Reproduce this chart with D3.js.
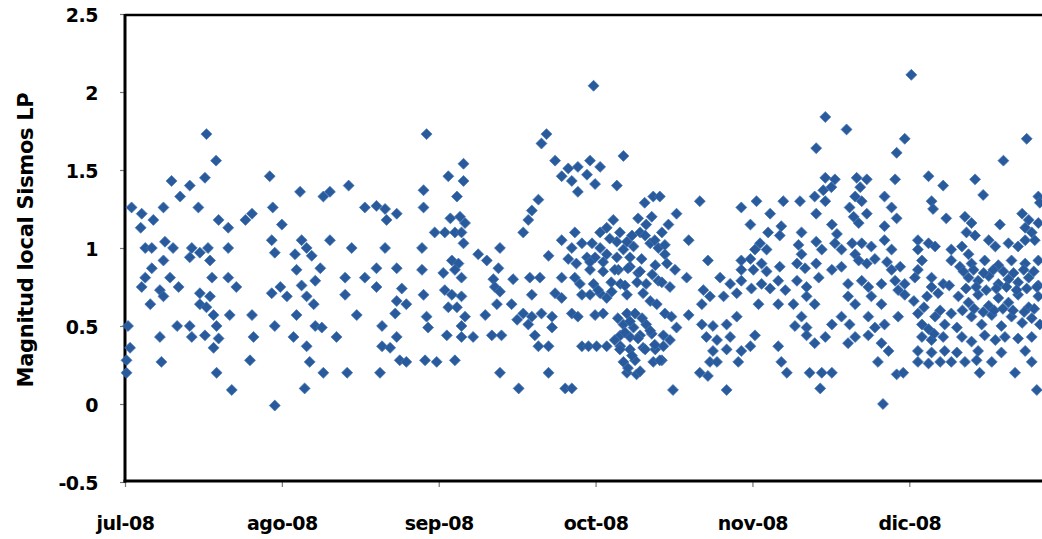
<!DOCTYPE html>
<html>
<head>
<meta charset="utf-8">
<script src="https://cdn.jsdelivr.net/npm/d3@7"></script>
<style>
  html, body { margin: 0; padding: 0; background: #fff; }
  svg { display: block; }
  text { font-family: "DejaVu Sans", Verdana, sans-serif; font-weight: bold; fill: #000; }
</style>
</head>
<body>
<svg id="chart" width="1042" height="539"></svg>
<script>
// Sismos LP: [día del mes (con fracción), magnitud local]
const julio = [
  [17.1,1.73],[19.0,1.56],[10.2,1.43],[13.8,1.40],[16.8,1.45],[11.9,1.33],[15.5,1.26],[8.6,1.26],[2.3,1.26],[4.3,1.22],
  [6.6,1.18],[4.1,1.13],[19.5,1.18],[21.4,1.13],[24.8,1.18],[26.1,1.22],[29.6,1.46],[30.2,1.26],[5.0,1.0],[6.3,1.0],
  [8.9,1.04],[10.5,1.0],[14.2,1.0],[17.4,1.0],[21.4,1.0],[30.0,1.05],[30.6,0.97],[13.8,0.94],[15.8,0.97],[17.8,0.92],
  [8.6,0.92],[6.3,0.87],[5.0,0.81],[9.9,0.81],[18.2,0.81],[21.4,0.81],[4.3,0.75],[7.9,0.73],[11.6,0.75],[23.0,0.75],
  [6.0,0.64],[8.6,0.69],[15.8,0.71],[17.8,0.69],[15.8,0.64],[17.1,0.62],[30.0,0.71],[18.5,0.57],[21.7,0.57],[26.1,0.57],
  [30.6,0.5],[1.6,0.5],[11.3,0.5],[13.8,0.5],[19.1,0.5],[7.9,0.43],[14.2,0.43],[16.8,0.44],[19.5,0.42],[26.4,0.43],
  [2.0,0.36],[18.5,0.36],[1.3,0.28],[8.2,0.27],[25.7,0.28],[1.3,0.2],[19.1,0.2],[22.1,0.09],[30.6,-0.01],[31.7,0.75]
];
const agosto = [
  [4.6,1.36],[9.2,1.33],[10.5,1.36],[14.2,1.40],[29.0,1.37],[17.4,1.26],[19.7,1.27],[21.4,1.25],[21.7,1.18],[23.7,1.22],
  [29.0,1.26],[1.0,1.15],[4.9,1.05],[5.9,1.0],[10.5,1.05],[14.8,1.0],[21.4,1.0],[28.7,1.0],[3.6,0.96],[6.9,0.95],
  [3.9,0.86],[8.6,0.87],[7.6,0.79],[13.5,0.81],[17.4,0.81],[19.7,0.87],[23.7,0.87],[28.7,0.86],[2.0,0.69],[4.9,0.76],
  [5.9,0.69],[7.3,0.64],[13.5,0.70],[19.7,0.75],[24.7,0.74],[23.7,0.66],[25.6,0.64],[29.0,0.70],[3.9,0.57],[15.8,0.57],
  [23.4,0.58],[29.6,0.56],[7.6,0.50],[8.9,0.49],[20.8,0.50],[3.3,0.43],[11.8,0.43],[23.7,0.43],[5.9,0.37],[20.8,0.37],
  [22.4,0.36],[6.5,0.27],[24.3,0.28],[25.6,0.27],[29.3,0.28],[9.2,0.20],[13.9,0.20],[20.4,0.20],[5.5,0.10],[29.6,1.73],
  [31.2,1.10],[29.9,0.49],[31.6,0.27]
];
const septiembre = [
  [22.3,1.73],[21.3,1.67],[5.9,1.54],[2.9,1.46],[5.9,1.43],[24.0,1.56],[26.6,1.51],[28.5,1.52],[25.3,1.46],[27.3,1.43],
  [28.5,1.36],[4.6,1.33],[20.7,1.31],[19.4,1.24],[18.7,1.18],[3.3,1.19],[5.2,1.20],[6.2,1.16],[17.7,1.10],[2.2,1.10],
  [4.2,1.10],[5.5,1.10],[27.9,1.10],[5.9,1.03],[13.1,1.0],[8.8,0.96],[10.5,0.92],[25.3,1.05],[27.3,1.0],[29.3,1.03],
  [22.7,0.95],[3.6,0.92],[4.9,0.90],[26.6,0.93],[28.2,0.90],[1.9,0.84],[4.2,0.86],[5.5,0.81],[12.8,0.87],[11.8,0.80],
  [15.7,0.80],[19.0,0.81],[21.0,0.81],[25.3,0.81],[27.9,0.81],[2.2,0.73],[3.6,0.70],[5.5,0.69],[12.1,0.75],[13.1,0.72],
  [19.4,0.70],[24.0,0.71],[25.3,0.68],[29.3,0.70],[2.9,0.62],[4.6,0.62],[12.5,0.64],[15.4,0.64],[6.2,0.56],[5.5,0.50],
  [10.2,0.57],[16.5,0.54],[17.7,0.58],[19.4,0.56],[21.3,0.58],[23.4,0.56],[27.3,0.58],[28.5,0.56],[18.7,0.51],[23.4,0.49],
  [2.6,0.44],[5.5,0.43],[7.8,0.43],[11.5,0.44],[13.4,0.44],[20.0,0.44],[20.7,0.37],[22.7,0.37],[29.3,0.37],[4.2,0.28],
  [13.1,0.20],[22.7,0.20],[16.8,0.10],[26.0,0.10],[27.3,0.10],[30.9,1.56],[30.3,1.47],[30.3,0.94],[30.9,0.86],[28.9,0.77],
  [30.9,0.70],[30.6,0.37]
];
const octubre = [
  [1.6,2.04],[2.9,1.52],[1.9,1.41],[7.5,1.59],[6.2,1.40],[13.4,1.33],[11.7,1.29],[14.7,1.33],[22.6,1.30],[18.0,1.22],
  [5.5,1.18],[4.2,1.13],[10.4,1.19],[13.1,1.20],[12.0,1.15],[10.8,1.10],[16.4,1.15],[15.1,1.10],[20.4,1.05],[24.2,0.92],
  [1.3,1.03],[2.9,1.0],[1.9,0.94],[4.2,0.96],[6.2,1.04],[8.2,1.04],[9.5,1.01],[7.5,0.99],[12.8,1.03],[14.4,1.0],
  [15.7,0.96],[6.2,0.94],[8.8,0.94],[11.1,0.93],[13.8,0.89],[16.1,0.90],[17.7,0.86],[3.5,0.85],[6.5,0.86],[8.8,0.88],
  [10.4,0.84],[20.0,0.81],[26.6,0.81],[1.6,0.77],[5.1,0.78],[6.9,0.77],[12.0,0.77],[14.4,0.79],[16.7,0.75],[28.6,0.77],
  [2.9,0.71],[4.2,0.68],[8.2,0.70],[11.4,0.71],[12.8,0.66],[14.1,0.64],[23.3,0.73],[24.6,0.69],[23.0,0.64],[27.3,0.69],
  [29.9,0.71],[1.9,0.57],[3.5,0.58],[8.2,0.58],[9.8,0.58],[7.5,0.51],[9.5,0.49],[12.0,0.51],[15.7,0.58],[17.0,0.56],
  [18.0,0.49],[20.4,0.57],[23.0,0.51],[25.2,0.50],[27.9,0.51],[29.9,0.56],[6.9,0.44],[8.8,0.43],[10.8,0.44],[13.1,0.45],
  [15.4,0.44],[16.7,0.41],[23.9,0.43],[26.0,0.41],[28.6,0.43],[2.2,0.37],[4.2,0.37],[6.9,0.37],[8.8,0.35],[11.4,0.36],
  [13.8,0.35],[15.4,0.37],[25.2,0.34],[27.9,0.35],[7.5,0.27],[9.8,0.28],[13.4,0.27],[15.1,0.28],[24.6,0.27],[26.0,0.27],
  [8.2,0.20],[10.1,0.19],[22.6,0.20],[24.2,0.18],[17.3,0.09],[27.9,0.09],[30.8,1.26],[30.8,0.92],[30.8,0.86],[30.8,0.79],
  [30.8,0.34],[30.2,0.27],
  [2.9,1.10],[4.8,1.06],[6.8,1.10],[9.2,1.08],[11.8,1.08],[13.7,1.05],[15.7,1.02],[0.9,0.91],[3.5,0.91],[5.8,0.86],
  [8.4,0.87],[10.8,0.85],[13.2,0.83],[15.1,0.78],[2.5,0.73],[5.2,0.72],[7.8,0.76],[10.2,0.78],
  [6.4,0.55],[8.8,0.53],[11.2,0.55],[7.8,0.46],[10.4,0.42],[12.8,0.47],[6.8,0.35],[9.2,0.31],[11.8,0.35],[8.4,0.23],
  [10.8,0.21],[5.8,0.41],[13.7,0.38],[14.7,0.28]
];
const noviembre = [
  [16.4,1.84],[20.6,1.76],[14.6,1.64],[16.4,1.45],[18.3,1.44],[17.6,1.39],[16.0,1.37],[22.6,1.45],[24.6,1.44],[23.3,1.39],
  [22.3,1.33],[14.3,1.33],[16.4,1.30],[14.6,1.22],[2.8,1.30],[5.5,1.22],[8.1,1.30],[11.4,1.30],[21.2,1.26],[23.6,1.30],
  [24.6,1.22],[22.0,1.20],[23.0,1.16],[28.1,1.33],[29.5,1.26],[1.6,1.15],[5.1,1.10],[7.7,1.14],[7.4,1.08],[11.7,1.10],
  [17.7,1.15],[18.7,1.09],[28.1,1.14],[3.5,1.03],[2.5,0.99],[4.8,0.99],[11.1,1.02],[11.7,0.96],[14.6,1.04],[15.7,0.99],
  [18.3,1.03],[19.6,0.99],[21.7,1.03],[23.6,1.03],[25.5,1.01],[22.3,0.96],[28.1,1.05],[29.5,0.99],[1.6,0.93],[3.8,0.90],
  [2.2,0.86],[4.8,0.85],[7.4,0.88],[10.8,0.90],[12.4,0.87],[14.6,0.90],[17.7,0.86],[19.6,0.88],[23.0,0.92],[24.6,0.90],
  [26.2,0.93],[28.6,0.91],[29.5,0.86],[1.8,0.74],[3.8,0.77],[5.5,0.74],[7.1,0.79],[8.5,0.73],[10.8,0.79],[12.7,0.75],
  [15.1,0.81],[20.9,0.77],[23.6,0.79],[24.9,0.75],[27.5,0.77],[3.2,0.64],[7.1,0.64],[10.1,0.64],[12.7,0.69],[14.3,0.64],
  [20.9,0.69],[22.3,0.64],[25.5,0.69],[27.5,0.64],[11.7,0.56],[10.4,0.50],[12.7,0.49],[17.7,0.51],[19.6,0.56],[21.2,0.51],
  [24.9,0.56],[26.2,0.49],[28.1,0.51],[2.5,0.44],[1.6,0.37],[7.1,0.37],[7.7,0.27],[12.7,0.44],[14.3,0.39],[16.4,0.43],
  [20.9,0.39],[22.3,0.43],[24.9,0.44],[27.5,0.39],[28.9,0.34],[26.8,0.27],[8.8,0.20],[13.3,0.20],[15.7,0.20],[17.7,0.20],
  [15.4,0.10],[27.8,0.0],[30.5,1.61],[30.2,1.44],[30.5,1.19],[30.2,0.79],[30.8,0.73],[30.8,0.56],[30.5,0.19]
];
const diciembre = [
  [3.4,2.11],[2.1,1.70],[26.2,1.70],[21.6,1.56],[6.8,1.46],[9.7,1.40],[16.0,1.44],[7.4,1.30],[7.7,1.25],[17.6,1.34],
  [28.5,1.33],[28.8,1.29],[10.3,1.19],[14.0,1.20],[15.3,1.16],[14.3,1.10],[16.0,1.08],[20.9,1.15],[25.3,1.22],[26.6,1.18],
  [25.9,1.13],[27.2,1.10],[28.5,1.16],[4.7,1.05],[6.8,1.03],[4.7,0.99],[8.1,1.01],[11.3,0.99],[13.4,1.01],[14.7,0.96],
  [18.7,1.05],[20.0,1.01],[22.6,1.03],[24.5,1.01],[25.9,1.05],[27.8,1.05],[1.2,0.88],[5.5,0.92],[4.7,0.86],[11.3,0.92],
  [13.0,0.88],[15.3,0.90],[17.9,0.92],[20.6,0.89],[23.2,0.92],[25.9,0.90],[28.5,0.92],[2.1,0.77],[4.1,0.81],[7.4,0.81],
  [9.7,0.77],[7.4,0.75],[14.7,0.81],[16.6,0.79],[18.7,0.82],[20.6,0.77],[22.6,0.80],[24.5,0.78],[26.6,0.81],[28.5,0.76],
  [2.1,0.70],[6.5,0.69],[8.7,0.71],[12.7,0.69],[14.7,0.65],[16.6,0.70],[18.7,0.63],[20.6,0.68],[22.6,0.65],[24.5,0.70],
  [26.6,0.62],[28.5,0.69],[4.7,0.58],[5.5,0.51],[8.1,0.56],[6.8,0.48],[11.3,0.58],[10.0,0.51],[12.4,0.49],[15.3,0.56],
  [17.3,0.51],[19.3,0.57],[21.2,0.50],[23.2,0.56],[25.3,0.52],[27.2,0.55],[28.8,0.51],[5.5,0.43],[7.4,0.41],[9.7,0.43],
  [13.4,0.43],[15.3,0.40],[17.9,0.44],[20.0,0.41],[21.9,0.43],[24.5,0.42],[27.2,0.43],[4.7,0.34],[7.4,0.33],[10.0,0.34],
  [12.4,0.33],[16.6,0.34],[21.2,0.33],[25.9,0.34],[4.7,0.27],[6.8,0.26],[9.1,0.27],[11.3,0.27],[14.0,0.27],[16.3,0.28],
  [19.3,0.27],[27.2,0.27],[1.8,0.20],[16.9,0.20],[23.9,0.20],[28.2,0.09],
  [13.7,0.85],[15.7,0.86],[17.7,0.84],[19.6,0.86],[21.6,0.85],[23.6,0.84],[25.6,0.86],[27.6,0.85],
  [14.2,0.74],[16.2,0.75],[18.2,0.73],[20.2,0.74],[22.2,0.75],[24.2,0.73],[26.2,0.74],[28.2,0.75],
  [13.5,0.60],[15.8,0.61],[17.6,0.59],[19.8,0.60],[21.5,0.61],[23.5,0.60],[25.7,0.59],[27.7,0.61],
  [5.9,0.62],[7.9,0.45],[9.1,0.60],[3.9,0.66],[10.9,0.76]
];

// mes (índice 0-11) de cada bloque de datos
const meses = [
  { mes: 6, datos: julio },
  { mes: 7, datos: agosto },
  { mes: 8, datos: septiembre },
  { mes: 9, datos: octubre },
  { mes: 10, datos: noviembre },
  { mes: 11, datos: diciembre }
];

const etiquetasX = ["jul-08", "ago-08", "sep-08", "oct-08", "nov-08", "dic-08"];
const ticksY = [-0.5, 0, 0.5, 1, 1.5, 2, 2.5];
const tituloY = "Magnitud local Sismos LP";

const DIA = 864e5;
const inicio = Date.UTC(2008, 6, 1);
// divisiones principales cada 31 días desde el 1 de julio
const ticksX = etiquetasX.map((_, k) => new Date(inicio + k * 31 * DIA));

const puntos = [];
meses.forEach(({ mes, datos }) => {
  datos.forEach(([dia, mag]) => {
    puntos.push({ fecha: new Date(Date.UTC(2008, mes, 1) + (dia - 1) * DIA), mag });
  });
});

const svg = d3.select("#chart");
const mIzq = 125, mSup = 14, mInf = 482;
const mDer = 125 + 186 * 5.06;

const x = d3.scaleUtc()
  .domain([new Date(inicio), new Date(inicio + 186 * DIA)])
  .range([mIzq, mDer]);
const y = d3.scaleLinear().domain([-0.5, 2.5]).range([mInf, mSup]);

// borde superior del área de trazado
svg.append("line")
  .attr("x1", mIzq).attr("x2", mDer).attr("y1", mSup + 1).attr("y2", mSup + 1)
  .attr("stroke", "#000").attr("stroke-width", 2.6);

// eje Y
const ejeY = svg.append("g")
  .attr("transform", `translate(${mIzq},0)`)
  .call(d3.axisLeft(y).tickValues(ticksY).tickSize(5).tickPadding(22)
    .tickFormat(d => String(d)));
ejeY.select(".domain").remove();
ejeY.selectAll(".tick line").attr("stroke", "#777").attr("stroke-width", 1.2);
ejeY.selectAll(".tick text")
  .attr("font-size", 19).attr("dy", "0.4em")
  .attr("font-family", "DejaVu Sans").attr("font-weight", "bold")
  .attr("letter-spacing", "-0.5")
  .attr("fill", "#000");

// eje X
const ejeX = svg.append("g")
  .attr("transform", `translate(0,${mInf - 1})`)
  .call(d3.axisBottom(x).tickValues(ticksX).tickSize(6).tickPadding(30)
    .tickFormat((d, i) => etiquetasX[i]));
ejeX.select(".domain").remove();
ejeX.selectAll(".tick line").attr("stroke", "#777").attr("stroke-width", 1.2);
ejeX.selectAll(".tick text")
  .attr("font-size", 19)
  .attr("font-family", "DejaVu Sans").attr("font-weight", "bold")
  .attr("letter-spacing", "-0.5")
  .attr("fill", "#000");

// líneas de los ejes
svg.append("line")
  .attr("x1", mIzq).attr("x2", mIzq).attr("y1", mSup).attr("y2", mInf + 0.5)
  .attr("stroke", "#000").attr("stroke-width", 3);
svg.append("line")
  .attr("x1", mIzq - 1.5).attr("x2", mDer).attr("y1", mInf - 1).attr("y2", mInf - 1)
  .attr("stroke", "#000").attr("stroke-width", 3);

// título del eje Y
svg.append("text")
  .attr("transform", `translate(33,240) rotate(-90)`)
  .attr("text-anchor", "middle")
  .attr("font-size", 21)
  .attr("letter-spacing", "-0.3")
  .text(tituloY);

// marcadores en forma de rombo
const rombo = d3.symbol(d3.symbolSquare, 60);
svg.append("g")
  .selectAll("path")
  .data(puntos)
  .join("path")
  .attr("d", rombo)
  .attr("transform", d => `translate(${x(d.fecha)},${y(d.mag)}) rotate(45)`)
  .attr("fill", "#285A9C")
  .attr("stroke", "#4474B2")
  .attr("stroke-width", 0.7);
</script>
</body>
</html>
